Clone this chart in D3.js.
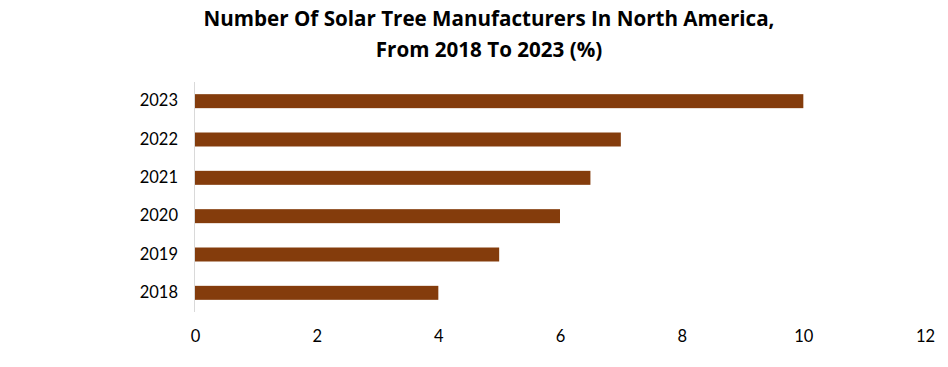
<!DOCTYPE html>
<html><head><meta charset="utf-8">
<script src="https://cdn.jsdelivr.net/npm/d3@7"></script>
<style>body{margin:0;background:#fff}svg{display:block}</style>
</head><body>
<svg id="c" width="948" height="367"></svg>
<script>
const years = ["2023","2022","2021","2020","2019","2018"];
const values = [10, 7, 6.5, 6, 5, 4];
const xTicks = [0, 2, 4, 6, 8, 10, 12];
const titleLines = ["Number Of Solar Tree Manufacturers In North America,", "From 2018 To 2023 (%)"];

const svg = d3.select("#c");
const x = d3.scaleLinear().domain([0, 12]).range([195, 925]);
const y = d3.scaleBand().domain(years).range([82, 312]).paddingInner(0.635).paddingOuter(0.3175);

svg.append("g").selectAll("text").data(titleLines).join("text")
  .attr("x", 489).attr("y", (d, i) => 26 + i * 31)
  .attr("text-anchor", "middle")
  .style("font-family", "'Open Sans',sans-serif").style("font-weight", "bold").style("font-size", "20.6px")
  .attr("fill", "#000").text(d => d);

svg.append("g").selectAll("rect").data(values).join("rect")
  .attr("x", x(0)).attr("y", (d, i) => y(years[i]))
  .attr("width", d => x(d) - x(0)).attr("height", y.bandwidth())
  .attr("fill", "#843C0C");

svg.append("line").attr("x1", x(0) - 0.5).attr("x2", x(0) - 0.5)
  .attr("y1", 82).attr("y2", 312).attr("stroke", "#d9d9d9").attr("stroke-width", 1);

const yAxis = svg.append("g").attr("transform", `translate(${x(0)},0)`)
  .call(d3.axisLeft(y).tickSize(0).tickPadding(17));
yAxis.select(".domain").remove();
yAxis.selectAll("text").attr("fill", "#000").style("font-size", "16.5px").style("font-family", "Lato,'Open Sans',sans-serif");

const xAxis = svg.append("g").attr("transform", "translate(0,330)")
  .call(d3.axisBottom(x).tickValues(xTicks).tickSize(0).tickPadding(0));
xAxis.select(".domain").remove();
xAxis.selectAll("text").attr("fill", "#000").style("font-size", "16.5px").style("font-family", "Lato,'Open Sans',sans-serif");
</script>
</body></html>
